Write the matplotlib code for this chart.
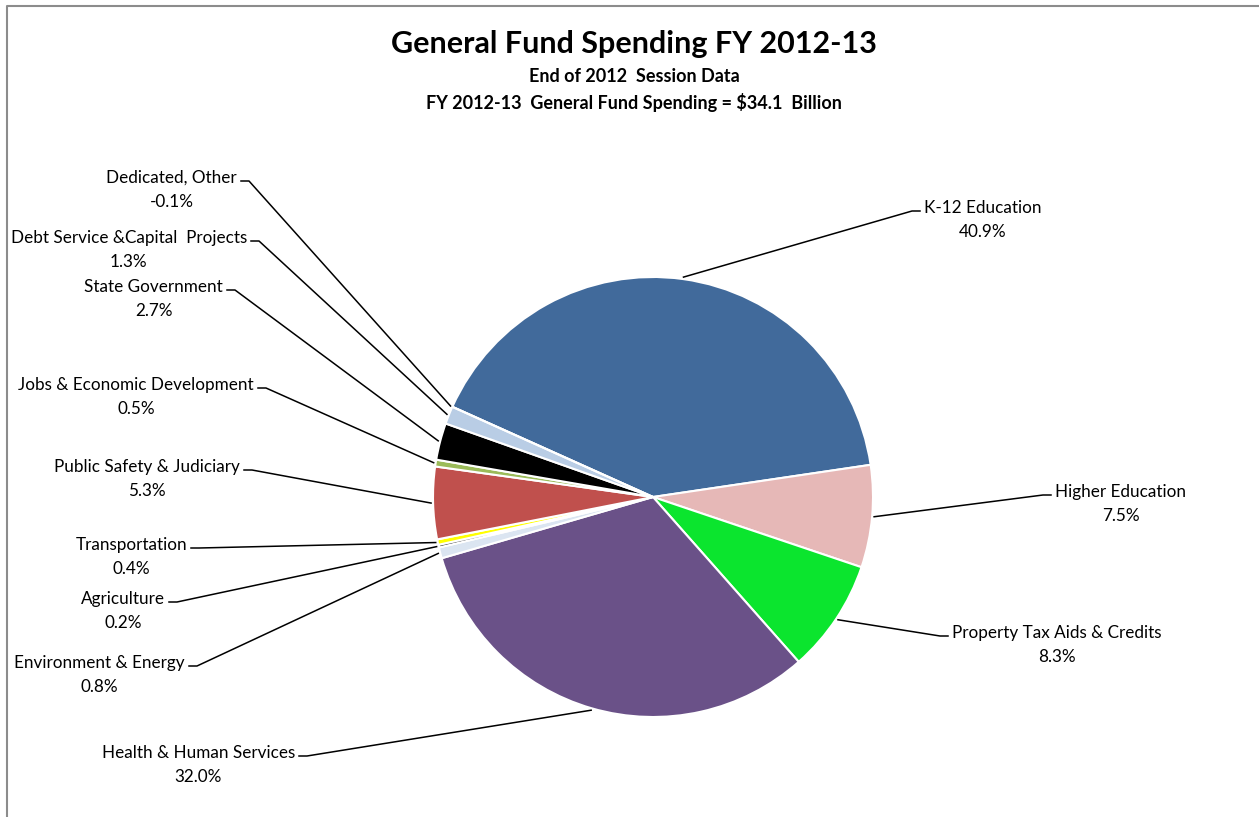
import numpy as np
import matplotlib
matplotlib.use("Agg")
import matplotlib.pyplot as plt

plt.rcParams["font.family"] = ["Lato", "DejaVu Sans"]

# data, in pie order (clockwise from K-12)
categories = [
    "K-12 Education", "Higher Education", "Property Tax Aids & Credits",
    "Health & Human Services", "Environment & Energy", "Agriculture",
    "Transportation", "Public Safety & Judiciary", "Jobs & Economic Development",
    "State Government", "Debt Service &Capital  Projects", "Dedicated, Other",
]
shares = [40.9, 7.5, 8.3, 32.0, 0.8, 0.2, 0.4, 5.3, 0.5, 2.7, 1.3, -0.1]
colors = [
    "#416A9B", "#E6B8B7", "#0BE52E", "#6A5188", "#DBE5F1", "#262626",
    "#FFFF00", "#C0504D", "#9BBB59", "#000000", "#B9CDE5", "#8EB4E3",
]

# label layout in pixels: (x of text edge next to leader, y of first line, side)
label_pos = [
    (924, 207, "R"), (1055, 491, "R"), (952, 632, "R"),
    (295, 752, "L"), (185, 662, "L"), (165, 598, "L"),
    (187, 544, "L"), (240, 466, "L"), (254, 384, "L"),
    (223, 286, "L"), (247, 237, "L"), (237, 177, "L"),
]

W, H = 1259, 817
CX, CY, R = 653, 497, 220


def fy(py):
    # pixel row -> data y
    return H - py


fig = plt.figure(figsize=(W / 100, H / 100), dpi=100)
ax = fig.add_axes([0, 0, 1, 1])

draw_vals = [max(v, 0) for v in shares]
wedges, _ = ax.pie(
    draw_vals, colors=colors, startangle=155.8, counterclock=False,
    center=(CX, fy(CY)), radius=R,
    wedgeprops=dict(edgecolor="white", linewidth=1.5),
)
ax.set_xlim(0, W)
ax.set_ylim(0, H)
ax.set_aspect("equal")
ax.axis("off")

# chart border (top and left edges visible)
ax.plot([7, 7, W], [0, fy(6), fy(6)], color="#8C8C8C", lw=1.5, solid_capstyle="butt")

# labels with leader lines
for name, val, w, (tx, ty, side) in zip(categories, shares, wedges, label_pos):
    mid = np.deg2rad((w.theta1 + w.theta2) / 2)
    ax_x = CX + (R + 2) * np.cos(mid)
    ax_y = fy(CY) + (R + 2) * np.sin(mid)
    ly = fy(ty + 4)
    if side == "L":
        x0, x1 = tx + 4, tx + 12
        ha = "right"
    else:
        x0, x1 = tx - 4, tx - 12
        ha = "left"
    ax.plot([x0, x1, ax_x], [ly, ly, ax_y], color="black", lw=1.1)
    ax.text(tx, fy(ty + 13), f"{name}\n{val:.1f}%", ha=ha, va="center",
            multialignment="center", fontsize=12.3, linespacing=1.6)

ax.text(634, fy(44), "General Fund Spending FY 2012-13", ha="center", va="center",
        fontsize=22, fontweight="bold")
ax.text(634, fy(76), "End of 2012  Session Data", ha="center", va="center",
        fontsize=13, fontweight="bold")
ax.text(634, fy(102), "FY 2012-13  General Fund Spending = $34.1  Billion",
        ha="center", va="center", fontsize=13, fontweight="bold")

fig.savefig("out.png", dpi=100)
